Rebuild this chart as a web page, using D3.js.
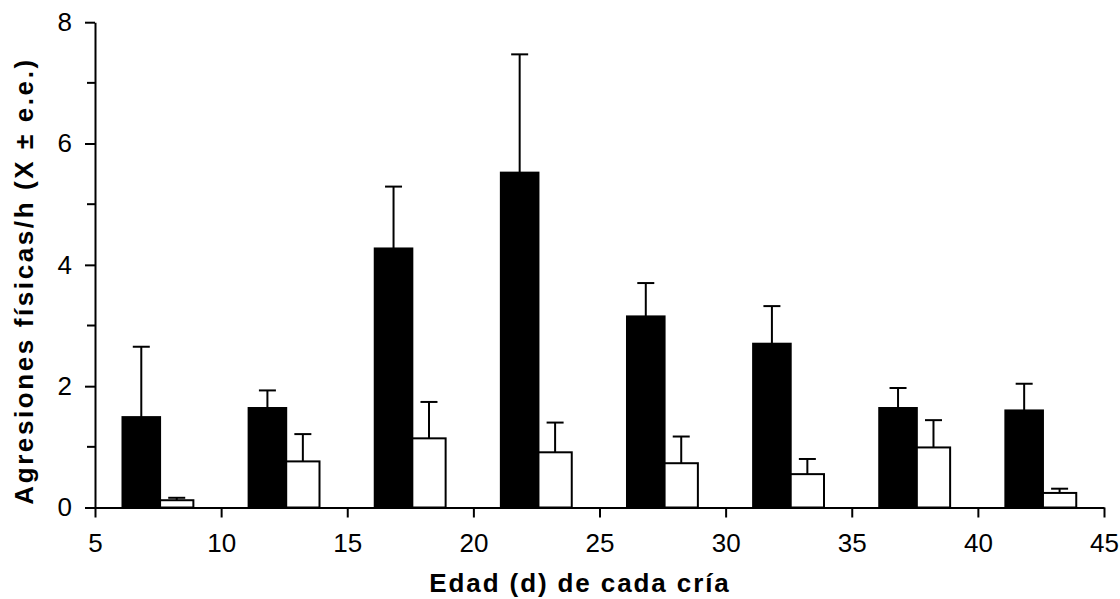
<!DOCTYPE html>
<html>
<head>
<meta charset="utf-8">
<script src="https://cdn.jsdelivr.net/npm/d3@7"></script>
<style>
  html, body { margin: 0; padding: 0; background: #fff; }
  svg { display: block; font-family: "Liberation Sans", Arial, sans-serif; }
</style>
</head>
<body>
<svg id="chart" width="1120" height="599"></svg>
<script>
// Ages (days) at which each pup was observed
const ages = [7, 12, 17, 22, 27, 32, 37, 42];
// Physical aggressions per hour: mean and standard error, two groups
const blackMeans = [1.49, 1.64, 4.27, 5.52, 3.15, 2.70, 1.64, 1.60];
const blackSE    = [1.16, 0.29, 1.02, 1.95, 0.55, 0.62, 0.33, 0.44];
const whiteMeans = [0.12, 0.76, 1.14, 0.91, 0.73, 0.55, 0.99, 0.24];
const whiteSE    = [0.04, 0.45, 0.60, 0.49, 0.44, 0.25, 0.45, 0.07];
// Axis ticks
const xTicks = [5, 10, 15, 20, 25, 30, 35, 40, 45];
const yMajorTicks = [0, 2, 4, 6, 8];
const yMinorTicks = [1, 3, 5, 7];

const svg = d3.select("#chart");
const x = d3.scaleLinear().domain([5, 45]).range([95, 1104]);
const y = d3.scaleLinear().domain([0, 8]).range([507.5, 22.2]);

// Bar extents relative to each age, in days
const blackLeft = -0.91, split = 0.58, whiteRight = 1.90;

const rows = ages.map((a, i) => ({
  age: a, bm: blackMeans[i], bs: blackSE[i], wm: whiteMeans[i], ws: whiteSE[i]
}));

const g = svg.append("g");

// Error bars (upper half only), drawn beneath the bars
function errorBar(cx, mean, se) {
  const top = y(mean + se);
  g.append("line").attr("x1", cx).attr("x2", cx)
    .attr("y1", y(mean)).attr("y2", top)
    .attr("stroke", "#000").attr("stroke-width", 2);
  g.append("line").attr("x1", cx - 8.5).attr("x2", cx + 8.5)
    .attr("y1", top).attr("y2", top)
    .attr("stroke", "#000").attr("stroke-width", 2);
}

rows.forEach(d => {
  const bx0 = x(d.age + blackLeft), bx1 = x(d.age + split), wx1 = x(d.age + whiteRight);
  errorBar((bx0 + bx1) / 2, d.bm, d.bs);
  errorBar((bx1 + wx1) / 2, d.wm, d.ws);
});

g.selectAll("rect.black").data(rows).join("rect")
  .attr("class", "black")
  .attr("x", d => x(d.age + blackLeft))
  .attr("width", d => x(d.age + split) - x(d.age + blackLeft))
  .attr("y", d => y(d.bm))
  .attr("height", d => y(0) - y(d.bm))
  .attr("fill", "#000").attr("stroke", "#000").attr("stroke-width", 2);

g.selectAll("rect.white").data(rows).join("rect")
  .attr("class", "white")
  .attr("x", d => x(d.age + split))
  .attr("width", d => x(d.age + whiteRight) - x(d.age + split))
  .attr("y", d => y(d.wm))
  .attr("height", d => y(0) - y(d.wm))
  .attr("fill", "#fff").attr("stroke", "#000").attr("stroke-width", 2);

// X axis
const xAxis = svg.append("g").attr("transform", `translate(0,${y(0)})`)
  .call(d3.axisBottom(x).tickValues(xTicks).tickSize(10).tickPadding(16).tickSizeOuter(0));
xAxis.select(".domain").attr("stroke-width", 2);
xAxis.selectAll(".tick line").attr("stroke-width", 2);
xAxis.selectAll(".tick text").attr("font-size", 26).attr("fill", "#000")
  .style("font-family", "Liberation Sans, Arial, sans-serif");

// Y axis with minor ticks
const yAxis = svg.append("g").attr("transform", `translate(${x(5)},0)`)
  .call(d3.axisLeft(y).tickValues(yMajorTicks).tickSize(10).tickPadding(13).tickSizeOuter(0));
yAxis.select(".domain").attr("stroke-width", 2);
yAxis.selectAll(".tick line").attr("stroke-width", 2);
yAxis.selectAll(".tick text").attr("font-size", 26).attr("fill", "#000")
  .style("font-family", "Liberation Sans, Arial, sans-serif");
svg.append("g").selectAll("line").data(yMinorTicks).join("line")
  .attr("x1", x(5) - 8).attr("x2", x(5))
  .attr("y1", d => y(d)).attr("y2", d => y(d))
  .attr("stroke", "#000").attr("stroke-width", 2);

// Axis titles
svg.append("text")
  .attr("x", 580).attr("y", 592)
  .attr("text-anchor", "middle")
  .attr("font-size", 26).attr("font-weight", "bold")
  .attr("letter-spacing", 1.9)
  .text("Edad (d) de cada cría");

svg.append("text")
  .attr("transform", "translate(33,281) rotate(-90)")
  .attr("text-anchor", "middle")
  .attr("font-size", 26).attr("font-weight", "bold")
  .attr("letter-spacing", 2.6)
  .text("Agresiones físicas/h (X ± e.e.)");
</script>
</body>
</html>
